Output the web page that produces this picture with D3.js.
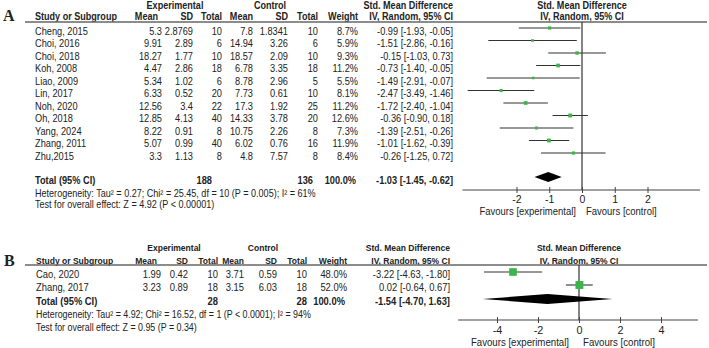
<!DOCTYPE html>
<html>
<head>
<meta charset="utf-8">
<script src="https://cdn.jsdelivr.net/npm/d3@7"></script>
<style>
body { margin: 0; background: #fff; }
svg text { font-family: "Liberation Sans", Arial, sans-serif; fill: #222; }
</style>
</head>
<body>
<svg id="chart"></svg>
<script>
// ---- panel A data ----
const studiesA = ['Cheng, 2015', 'Choi, 2016', 'Choi, 2018', 'Koh, 2008', 'Liao, 2009', 'Lin, 2017', 'Noh, 2020', 'Oh, 2018', 'Yang, 2024', 'Zhang, 2011', 'Zhu,2015'];
const expMeanA = [5.3, 9.91, 18.27, 4.47, 5.34, 6.33, 12.56, 12.85, 8.22, 5.07, 3.3];
const expSdA = [2.8769, 2.89, 1.77, 2.86, 1.02, 0.52, 3.4, 4.13, 0.91, 0.99, 1.13];
const expNA = [10, 6, 10, 18, 6, 20, 22, 40, 8, 40, 8];
const ctlMeanA = [7.8, 14.94, 18.57, 6.78, 8.78, 7.73, 17.3, 14.33, 10.75, 6.02, 4.8];
const ctlSdA = [1.8341, 3.26, 2.09, 3.35, 2.96, 0.61, 1.92, 3.78, 2.26, 0.76, 7.57];
const ctlNA = [10, 6, 10, 18, 5, 10, 25, 20, 8, 16, 8];
const weightA = [8.7, 5.9, 9.3, 11.2, 5.5, 8.1, 11.2, 12.6, 7.3, 11.9, 8.4];
const smdA = [-0.99, -1.51, -0.15, -0.73, -1.49, -2.47, -1.72, -0.36, -1.39, -1.01, -0.26];
const lowA = [-1.93, -2.86, -1.03, -1.40, -2.91, -3.49, -2.40, -0.90, -2.51, -1.62, -1.25];
const highA = [-0.05, -0.16, 0.73, -0.05, -0.07, -1.46, -1.04, 0.18, -0.26, -0.39, 0.72];
const totalA = { nExp: 188, nCtl: 136, smd: -1.03, low: -1.45, high: -0.62 };
const hetA = 'Heterogeneity: Tau\u00b2 = 0.27; Chi\u00b2 = 25.45, df = 10 (P = 0.005); I\u00b2 = 61%';
const testA = 'Test for overall effect: Z = 4.92 (P < 0.00001)';
const ticksA = [-2, -1, 0, 1, 2];

// ---- panel B data ----
const studiesB = ['Cao, 2020', 'Zhang, 2017'];
const expMeanB = [1.99, 3.23];
const expSdB = [0.42, 0.89];
const expNB = [10, 18];
const ctlMeanB = [3.71, 3.15];
const ctlSdB = [0.59, 6.03];
const ctlNB = [10, 18];
const weightB = [48.0, 52.0];
const smdB = [-3.22, 0.02];
const lowB = [-4.63, -0.64];
const highB = [-1.80, 0.67];
const totalB = { nExp: 28, nCtl: 28, smd: -1.54, low: -4.70, high: 1.63 };
const hetB = 'Heterogeneity: Tau\u00b2 = 4.92; Chi\u00b2 = 16.52, df = 1 (P < 0.0001); I\u00b2 = 94%';
const testB = 'Test for overall effect: Z = 0.95 (P = 0.34)';
const ticksB = [-4, -2, 0, 2, 4];

const f2 = v => v.toFixed(2);
const f1 = v => v.toFixed(1) + '%';

const svg = d3.select('#chart').attr('width', 709).attr('height', 348);

class forestPlot {
    constructor(_config, _rows, _total) {
        this.config = _config;
        this.rows = _rows;
        this.total = _total;
        this.initApp();
    }
    txt(x, y, s, anchor, bold, size) {
        let app = this;
        return app.g.append('text')
            .attr('transform', `translate(${x},${y}) scale(${app.config.squeeze},1)`)
            .attr('dy', '0.35em')
            .attr('text-anchor', anchor || 'start')
            .style('font-weight', bold ? 'bold' : 'normal')
            .style('font-size', (size || app.config.fontSize) + 'px')
            .text(s);
    }
    initApp() {
        let app = this;
        let c = app.config;
        app.g = svg.append('g');
        app.xScale = d3.scaleLinear().domain(c.domain).range(c.range);
        app.yScale = d3.scaleLinear().domain([0, 1]).range([c.rowStart, c.rowStart + c.rowStep]);
        app.renderApp();
    }
    renderApp() {
        let app = this;
        let c = app.config;
        let col = c.cols;
        let hs = c.headSize;

        // panel letter
        app.g.append('text').attr('x', c.letterX).attr('y', c.letterY)
            .style('font-family', '"Liberation Serif", "Times New Roman", serif')
            .style('font-weight', 'bold').style('font-size', '16px').text(c.letter);

        // group headers
        app.txt(col.expHead, c.groupY, 'Experimental', 'middle', true, hs);
        app.txt(col.ctlHead, c.groupY, 'Control', 'middle', true, hs);
        app.txt(col.smd, c.groupY, 'Std. Mean Difference', 'end', true, hs);
        app.txt(app.xScale(0), c.groupY, 'Std. Mean Difference', 'middle', true, hs);

        // column headers
        app.txt(col.study, c.headY, 'Study or Subgroup', 'start', true, hs);
        app.txt(col.expMean - 4, c.headY, 'Mean', 'end', true, hs);
        app.txt(col.expSd, c.headY, 'SD', 'end', true, hs);
        app.txt(col.expN, c.headY, 'Total', 'end', true, hs);
        app.txt(col.ctlMean, c.headY, 'Mean', 'end', true, hs);
        app.txt(col.ctlSd, c.headY, 'SD', 'end', true, hs);
        app.txt(col.ctlN, c.headY, 'Total', 'end', true, hs);
        app.txt(col.weight, c.headY, 'Weight', 'end', true, hs);
        app.txt(col.smd, c.headY, 'IV, Random, 95% CI', 'end', true, hs);
        app.txt(app.xScale(0), c.headY, 'IV, Random, 95% CI', 'middle', true, hs);

        app.g.append('line').attr('x1', 25).attr('x2', 707)
            .attr('y1', c.lineY).attr('y2', c.lineY)
            .attr('stroke', '#666').attr('stroke-width', 1.5);

        // study rows
        app.rows.forEach((d, i) => {
            let y = app.yScale(i);
            app.txt(col.study, y, d.study, 'start');
            app.txt(col.expMean, y, String(d.expMean), 'end');
            app.txt(col.expSd, y, String(d.expSd), 'end');
            app.txt(col.expN, y, String(d.expN), 'end');
            app.txt(col.ctlMean, y, String(d.ctlMean), 'end');
            app.txt(col.ctlSd, y, String(d.ctlSd), 'end');
            app.txt(col.ctlN, y, String(d.ctlN), 'end');
            app.txt(col.weight, y, f1(d.weight), 'end');
            app.txt(col.smd, y, `${f2(d.smd)} [${f2(d.low)}, ${f2(d.high)}]`, 'end');
        });

        // total rows
        let t = app.total;
        app.txt(col.study, c.totalY, 'Total (95% CI)', 'start', true);
        app.txt(col.expN - c.totalShift, c.totalY, String(t.nExp), 'end', true);
        app.txt(col.ctlN - c.totalShift / 2, c.totalY, String(t.nCtl), 'end', true);
        app.txt(col.weight - 2, c.totalY, f1(100), 'end', true);
        app.txt(col.smd, c.totalY, `${f2(t.smd)} [${f2(t.low)}, ${f2(t.high)}]`, 'end', true);
        app.txt(col.study, c.hetY, c.het, 'start', false, c.noteSize);
        app.txt(col.study, c.testY, c.test, 'start', false, c.noteSize);

        // forest: zero line
        app.g.append('line').attr('x1', app.xScale(0)).attr('x2', app.xScale(0))
            .attr('y1', c.lineY).attr('y2', c.axisY)
            .attr('stroke', '#333').attr('stroke-width', 1.2);

        // confidence intervals
        app.g.append('g').selectAll('line').data(app.rows).join('line')
            .attr('x1', d => app.xScale(Math.max(d.low, c.extent[0])))
            .attr('x2', d => app.xScale(Math.min(d.high, c.extent[1])))
            .attr('y1', (d, i) => app.yScale(i) + c.markShift)
            .attr('y2', (d, i) => app.yScale(i) + c.markShift)
            .attr('stroke', '#333').attr('stroke-width', 1.1);

        // weight squares
        app.g.append('g').selectAll('rect').data(app.rows).join('rect')
            .attr('x', d => app.xScale(d.smd) - c.sq(d.weight) / 2)
            .attr('y', (d, i) => app.yScale(i) + c.markShift - c.sq(d.weight) / 2)
            .attr('width', d => c.sq(d.weight))
            .attr('height', d => c.sq(d.weight))
            .attr('fill', '#3bb54a');

        // pooled diamond
        let dy = c.totalY + c.markShift;
        let pts = [[app.xScale(t.low), dy], [app.xScale(t.smd), dy - c.diamondH / 2],
            [app.xScale(t.high), dy], [app.xScale(t.smd), dy + c.diamondH / 2]];
        app.g.append('path').attr('d', d3.line()(pts) + 'Z').attr('fill', '#000');

        // axis
        app.g.append('line')
            .attr('x1', app.xScale(c.extent[0])).attr('x2', app.xScale(c.extent[1]))
            .attr('y1', c.axisY).attr('y2', c.axisY)
            .attr('stroke', '#444').attr('stroke-width', 1.1);
        let xAxis = d3.axisBottom(app.xScale).tickValues(c.ticks).tickSize(3).tickPadding(3)
            .tickFormat(d => String(d));
        let ax = app.g.append('g').attr('transform', `translate(0,${c.axisY})`).call(xAxis);
        ax.select('.domain').remove();
        ax.selectAll('.tick line').attr('y1', -3).attr('y2', 3).attr('stroke', '#444');
        ax.selectAll('.tick text').style('font-size', c.fontSize + 'px')
            .style('font-family', '"Liberation Sans", Arial, sans-serif').attr('fill', '#222');

        app.txt(app.xScale(0) + c.favLeft, c.favY, 'Favours [experimental]', 'end', false, c.fontSize + 0.3);
        app.txt(app.xScale(0) + c.favRight, c.favY, 'Favours [control]', 'start', false, c.fontSize + 0.3);
    }
}

function makeRows(st, em, es, en, cm, cs, cn, w, s, lo, hi) {
    return st.map((d, i) => ({
        study: d, expMean: em[i], expSd: es[i], expN: en[i],
        ctlMean: cm[i], ctlSd: cs[i], ctlN: cn[i], weight: w[i],
        smd: s[i], low: lo[i], high: hi[i]
    }));
}

new forestPlot({
    letter: 'A', letterX: 3, letterY: 21,
    squeeze: 0.88, fontSize: 10.5, headSize: 10.3, noteSize: 10.3,
    groupY: 5, headY: 16, lineY: 22,
    rowStart: 31, rowStep: 12.5, markShift: -3,
    totalY: 180, hetY: 193, testY: 204, totalShift: 10,
    cols: { study: 35, expHead: 175, ctlHead: 270, expMean: 162, expSd: 193, expN: 222,
        ctlMean: 253, ctlSd: 288, ctlN: 318, weight: 358, smd: 453 },
    domain: [-2, 2], range: [516.5, 647.5], extent: [-3.65, 3.6], ticks: ticksA,
    axisY: 190, favY: 211, favLeft: -6, favRight: 4, diamondH: 10,
    sq: w => 1.1 * Math.sqrt(w),
    het: hetA, test: testA
}, makeRows(studiesA, expMeanA, expSdA, expNA, ctlMeanA, ctlSdA, ctlNA, weightA, smdA, lowA, highA), totalA);

new forestPlot({
    letter: 'B', letterX: 4, letterY: 266,
    squeeze: 0.87, fontSize: 10.8, headSize: 9.8, noteSize: 10.2,
    groupY: 248, headY: 261, lineY: 265,
    rowStart: 274, rowStep: 13, markShift: -2,
    totalY: 301, hetY: 314, testY: 327, totalShift: 0,
    cols: { study: 36, expHead: 174, ctlHead: 263, expMean: 161, expSd: 188, expN: 218,
        ctlMean: 244, ctlSd: 277, ctlN: 307, weight: 347, smd: 450 },
    domain: [-4, 4], range: [497, 661], extent: [-5.9, 5.8], ticks: ticksB,
    axisY: 320, favY: 342, favLeft: -10, favRight: 4, diamondH: 10,
    sq: w => 1.1 * Math.sqrt(w),
    het: hetB, test: testB
}, makeRows(studiesB, expMeanB, expSdB, expNB, ctlMeanB, ctlSdB, ctlNB, weightB, smdB, lowB, highB), totalB);
</script>
</body>
</html>
